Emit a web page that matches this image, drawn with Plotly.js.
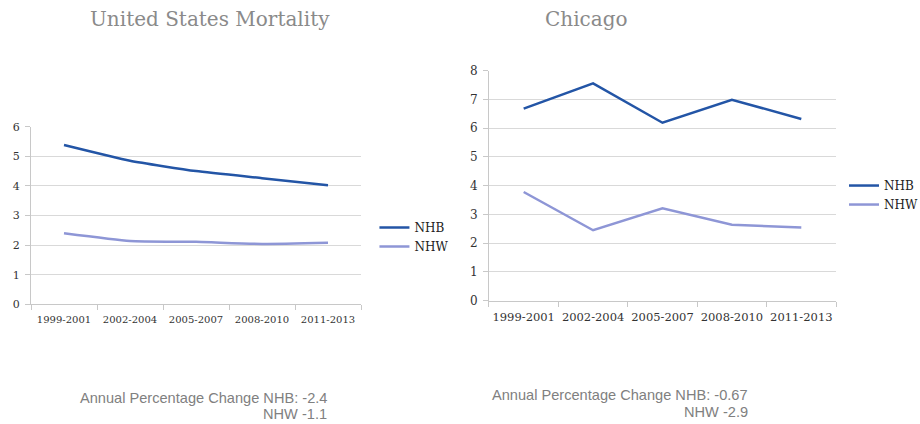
<!DOCTYPE html>
<html>
<head>
<meta charset="utf-8">
<script src="https://cdn.plot.ly/plotly-3.0.1.min.js"></script>
<style>html,body{margin:0;padding:0;background:#fff;}#chart{width:920px;height:424px;}</style>
</head>
<body>
<div id="chart"></div>
<script>
const periods = ["1999-2001", "2002-2004", "2005-2007", "2008-2010", "2011-2013"];
const usNHB = [5.38, 4.85, 4.50, 4.26, 4.02];
const usNHW = [2.40, 2.14, 2.11, 2.04, 2.08];
const chiNHB = [6.68, 7.56, 6.19, 6.99, 6.32];
const chiNHW = [3.78, 2.45, 3.21, 2.64, 2.55];
const usTitle = "United States Mortality";
const chiTitle = "Chicago";
const usNote1 = "Annual Percentage Change NHB: -2.4";
const usNote2 = "NHW -1.1";
const chiNote1 = "Annual Percentage Change NHB: -0.67";
const chiNote2 = "NHW -2.9";

const cNHB = "#2355a6";
const cNHW = "#8e96d6";
const serif = "DejaVu Serif";

const traces = [
  {x: periods, y: usNHB, name: "NHB", type: "scatter", mode: "lines", line: {color: cNHB, width: 2.5, shape: "spline", smoothing: 0.5}, xaxis: "x", yaxis: "y", legend: "legend"},
  {x: periods, y: usNHW, name: "NHW", type: "scatter", mode: "lines", line: {color: cNHW, width: 2.5, shape: "spline", smoothing: 0.5}, xaxis: "x", yaxis: "y", legend: "legend"},
  {x: periods, y: chiNHB, name: "NHB", type: "scatter", mode: "lines", line: {color: cNHB, width: 2.5}, xaxis: "x2", yaxis: "y2", legend: "legend2"},
  {x: periods, y: chiNHW, name: "NHW", type: "scatter", mode: "lines", line: {color: cNHW, width: 2.5}, xaxis: "x2", yaxis: "y2", legend: "legend2"}
];

const xCommon = {type: "category", range: [-0.5, 4.5], showgrid: false, showline: true, linecolor: "#c8c8c8", linewidth: 1,
  ticks: "outside", tickson: "boundaries", ticklen: 5, tickcolor: "#c8c8c8", zeroline: false, fixedrange: true, tickangle: 0, automargin: false};
const yCommon = {showgrid: true, gridcolor: "#d9d9d9", gridwidth: 1, showline: true, linecolor: "#c8c8c8", linewidth: 1,
  ticks: "outside", ticklen: 5, tickcolor: "#c8c8c8", zeroline: false, dtick: 1, fixedrange: true, automargin: false, ticklabelstandoff: 3};

const layout = {
  width: 920, height: 424,
  margin: {l: 0, r: 0, t: 0, b: 0, autoexpand: false},
  paper_bgcolor: "#fff", plot_bgcolor: "#fff",
  showlegend: true,
  xaxis: Object.assign({}, xCommon, {domain: [0.0337, 0.3924], anchor: "y", ticklabelstandoff: 6, tickfont: {family: serif, size: 10, color: "#333"}}),
  yaxis: Object.assign({}, yCommon, {domain: [0.2823, 0.7012], range: [0, 6], anchor: "x", tickfont: {family: serif, size: 11, color: "#333"}}),
  xaxis2: Object.assign({}, xCommon, {domain: [0.5315, 0.9087], anchor: "y2", ticklabelstandoff: 5, tickfont: {family: serif, size: 11.5, color: "#333"}}),
  yaxis2: Object.assign({}, yCommon, {domain: [0.2908, 0.8333], range: [0, 8], anchor: "x2", tickfont: {family: serif, size: 12, color: "#333"}}),
  legend: {x: 0.407, y: 0.441, xanchor: "left", yanchor: "middle", font: {family: serif, size: 12, color: "#222"}, bgcolor: "rgba(0,0,0,0)", tracegroupgap: 0},
  legend2: {x: 0.9174, y: 0.54, xanchor: "left", yanchor: "middle", font: {family: serif, size: 12, color: "#222"}, bgcolor: "rgba(0,0,0,0)", tracegroupgap: 0},
  annotations: [
    {text: usTitle, xref: "paper", yref: "paper", x: 0.228, y: 0.955, xanchor: "center", yanchor: "middle", showarrow: false, font: {family: serif, size: 20, color: "#8a8a8a"}},
    {text: chiTitle, xref: "paper", yref: "paper", x: 0.638, y: 0.955, xanchor: "center", yanchor: "middle", showarrow: false, font: {family: serif, size: 20, color: "#8a8a8a"}},
    {text: usNote1, xref: "paper", yref: "paper", x: 0.358, y: 1 - 398/424, xanchor: "right", yanchor: "middle", showarrow: false, font: {family: "Liberation Sans", size: 14.6, color: "#808080"}},
    {text: usNote2, xref: "paper", yref: "paper", x: 0.358, y: 1 - 414/424, xanchor: "right", yanchor: "middle", showarrow: false, font: {family: "Liberation Sans", size: 14.6, color: "#808080"}},
    {text: chiNote1, xref: "paper", yref: "paper", x: 0.8155, y: 1 - 395/424, xanchor: "right", yanchor: "middle", showarrow: false, font: {family: "Liberation Sans", size: 14.6, color: "#808080"}},
    {text: chiNote2, xref: "paper", yref: "paper", x: 0.8155, y: 1 - 412/424, xanchor: "right", yanchor: "middle", showarrow: false, font: {family: "Liberation Sans", size: 14.6, color: "#808080"}}
  ]
};

Plotly.newPlot("chart", traces, layout, {staticPlot: true, displayModeBar: false});
</script>
</body>
</html>
